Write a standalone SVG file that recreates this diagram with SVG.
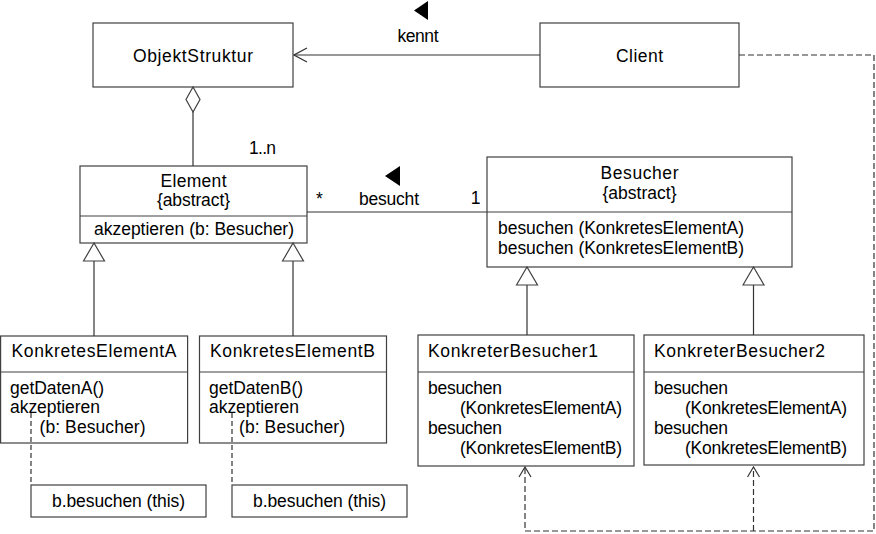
<svg xmlns="http://www.w3.org/2000/svg" width="876" height="534" viewBox="0 0 876 534">
  <style>
    .box { fill: #ffffff; stroke: #404040; stroke-width: 1.2; }
    .sep { stroke: #404040; stroke-width: 1.2; fill: none; }
    .ln { stroke: #333333; stroke-width: 1.2; fill: none; }
    .dash { stroke-dasharray: 6 3; }
    .ndash { stroke-dasharray: 5 3; }
    text { font-family: "Liberation Sans", Arial, sans-serif; font-size: 17.5px; fill: #000000; }
    .c { text-anchor: middle; }
    .dir { fill: #000000; stroke: none; }
  </style>
  <defs>
    <marker id="open" viewBox="0 0 15 16" refX="14" refY="8" markerWidth="15" markerHeight="16" markerUnits="userSpaceOnUse" orient="auto">
      <path d="M1,1 L14,8 L1,15" fill="none" stroke="#333333" stroke-width="1.2"/>
    </marker>
    <marker id="openS" viewBox="0 0 12 14" refX="11" refY="7" markerWidth="12" markerHeight="14" markerUnits="userSpaceOnUse" orient="auto">
      <path d="M1,1 L11,7 L1,13" fill="none" stroke="#333333" stroke-width="1.2"/>
    </marker>
    <marker id="tri" viewBox="0 0 20 24" refX="19" refY="12" markerWidth="20" markerHeight="24" markerUnits="userSpaceOnUse" orient="auto">
      <path d="M1,1.5 L19,12 L1,22.5 Z" fill="#ffffff" stroke="#404040" stroke-width="1.2"/>
    </marker>
    <marker id="dia" viewBox="0 0 27 16" refX="26" refY="8" markerWidth="27" markerHeight="16" markerUnits="userSpaceOnUse" orient="auto">
      <path d="M1,8 L13.5,1 L26,8 L13.5,15 Z" fill="#ffffff" stroke="#404040" stroke-width="1.2"/>
    </marker>
  </defs>

  <g id="ObjektStruktur">
    <rect class="box" x="93" y="23" width="200" height="64"/>
    <text x="193" y="62" class="c" textLength="120">ObjektStruktur</text>
  </g>

  <g id="Client">
    <rect class="box" x="540" y="23" width="199" height="64"/>
    <text x="639.5" y="62" class="c" textLength="47">Client</text>
  </g>

  <g id="Element">
    <rect class="box" x="80" y="166" width="227" height="77"/>
    <line class="sep" x1="80" y1="216" x2="307" y2="216"/>
    <text x="193.5" y="187" class="c" textLength="66">Element</text>
    <text x="193.5" y="206" class="c" textLength="73">{abstract}</text>
    <text x="94" y="235" textLength="200">akzeptieren (b: Besucher)</text>
  </g>

  <g id="Besucher">
    <rect class="box" x="487" y="157" width="305" height="110"/>
    <line class="sep" x1="487" y1="212" x2="792" y2="212"/>
    <text x="639.5" y="179" class="c" textLength="78">Besucher</text>
    <text x="639.5" y="199" class="c" textLength="74">{abstract}</text>
    <text x="498" y="234" textLength="246">besuchen (KonkretesElementA)</text>
    <text x="498" y="254" textLength="246">besuchen (KonkretesElementB)</text>
  </g>

  <g id="KonkretesElementA">
    <rect class="box" x="0.6" y="336" width="187" height="107"/>
    <line class="sep" x1="0.6" y1="372" x2="187.6" y2="372"/>
    <text x="11.5" y="357" textLength="165">KonkretesElementA</text>
    <text x="10" y="394" textLength="94">getDatenA()</text>
    <text x="10" y="413" textLength="90">akzeptieren</text>
    <text x="39.5" y="433" textLength="106">(b: Besucher)</text>
  </g>

  <g id="KonkretesElementB">
    <rect class="box" x="199.5" y="336" width="187" height="107"/>
    <line class="sep" x1="199.5" y1="372" x2="386.5" y2="372"/>
    <text x="210" y="357" textLength="165">KonkretesElementB</text>
    <text x="209" y="394" textLength="94">getDatenB()</text>
    <text x="209" y="413" textLength="90">akzeptieren</text>
    <text x="239" y="433" textLength="106">(b: Besucher)</text>
  </g>

  <g id="NoteA">
    <rect class="box" x="31" y="485" width="175" height="32"/>
    <text x="118.5" y="507" class="c" textLength="133">b.besuchen (this)</text>
  </g>

  <g id="NoteB">
    <rect class="box" x="232" y="485" width="175" height="32"/>
    <text x="319.5" y="507" class="c" textLength="133">b.besuchen (this)</text>
  </g>

  <g id="KonkreterBesucher1">
    <rect class="box" x="418" y="335" width="216" height="131"/>
    <line class="sep" x1="418" y1="372" x2="634" y2="372"/>
    <text x="428" y="357" textLength="170">KonkreterBesucher1</text>
    <text x="428" y="394" textLength="74">besuchen</text>
    <text x="460" y="414" textLength="162">(KonkretesElementA)</text>
    <text x="428" y="434" textLength="74">besuchen</text>
    <text x="460" y="454" textLength="162">(KonkretesElementB)</text>
  </g>

  <g id="KonkreterBesucher2">
    <rect class="box" x="644" y="335" width="220" height="130"/>
    <line class="sep" x1="644" y1="372" x2="864" y2="372"/>
    <text x="654" y="357" textLength="171">KonkreterBesucher2</text>
    <text x="654" y="394" textLength="74">besuchen</text>
    <text x="685" y="414" textLength="162">(KonkretesElementA)</text>
    <text x="654" y="434" textLength="74">besuchen</text>
    <text x="685" y="454" textLength="162">(KonkretesElementB)</text>
  </g>

  <g id="connectors">
    <path class="ln" d="M540,55 H294" marker-end="url(#open)"/>
    <path class="ln" d="M193,166 V87" marker-end="url(#dia)"/>
    <path class="ln" d="M307,212 H487"/>
    <path class="ln" d="M94,336 V243" marker-end="url(#tri)"/>
    <path class="ln" d="M293,336 V243" marker-end="url(#tri)"/>
    <path class="ln" d="M527,335 V267" marker-end="url(#tri)"/>
    <path class="ln" d="M753.5,335 V267" marker-end="url(#tri)"/>
    <path class="ln ndash" d="M31,413 V485"/>
    <path class="ln ndash" d="M232,413 V485"/>
    <path class="ln dash" d="M739,55 H874 V531 H525 V467" marker-end="url(#openS)"/>
    <path class="ln dash" d="M753.5,531 V467" marker-end="url(#openS)"/>
    <polygon class="dir" points="428,1 428,20 414,10.5"/>
    <text x="418" y="42" class="c" textLength="41">kennt</text>
    <text x="249" y="154" textLength="27">1..n</text>
    <text x="319.5" y="205" class="c">*</text>
    <polygon class="dir" points="400,166 400,186 385,176"/>
    <text x="389" y="205" class="c" textLength="60">besucht</text>
    <text x="475.5" y="204" class="c">1</text>
  </g>
</svg>
